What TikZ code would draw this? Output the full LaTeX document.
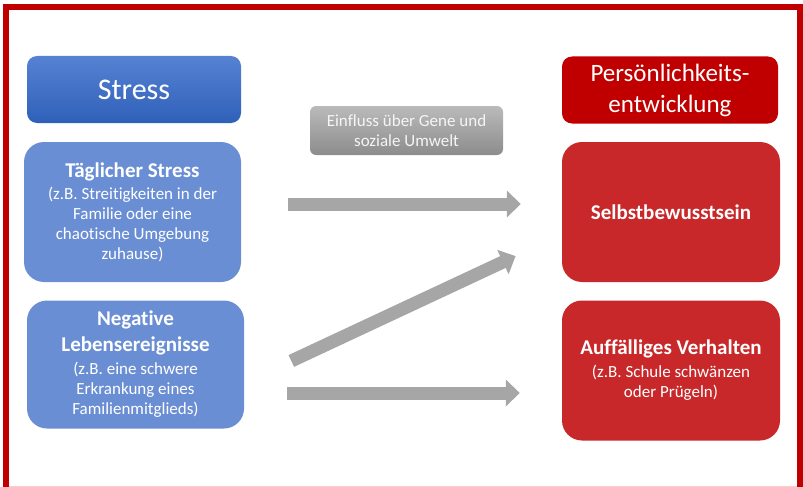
\documentclass[tikz,border=0pt]{standalone}
\usepackage{fontspec}
\setmainfont{Carlito}[Ligatures=NoCommon]
\usetikzlibrary{arrows.meta}

\definecolor{rahmenrot}{HTML}{C00000}
\definecolor{hellblau}{HTML}{6A8ED4}
\definecolor{kastenrot}{HTML}{C8282A}
\definecolor{pfeilgrau}{HTML}{A6A6A6}
\definecolor{stressoben}{HTML}{5682D2}
\definecolor{stressunten}{HTML}{2F60B9}

\begin{document}
\begin{tikzpicture}[x=1pt,y=-1pt,
		kasten/.style={rounded corners=20pt,text=white,align=center,inner sep=0pt,font=\fontsize{17}{20}\selectfont},
		blaukasten/.style={kasten,fill=hellblau,minimum width=217pt},
		rotkasten/.style={kasten,fill=kastenrot,minimum width=218pt,minimum height=140pt},
		kopf/.style={rounded corners=10pt,text=white,align=center,inner sep=0pt,minimum height=67pt},
		pfeil/.style={draw=pfeilgrau,line width=13pt,-{Triangle[length=14pt,width=26pt]}}]
		\useasboundingbox (0,0) rectangle (803,487);
		% Rahmen
		\draw[rahmenrot,line width=6pt] (6,495) -- (6,7) -- (800,7) -- (800,495);
		\draw[red!20,line width=1pt] (9,486.5) -- (797,486.5);
		
		% linke Seite
		\node[kopf,top color=stressoben,bottom color=stressunten,minimum width=214pt,font=\fontsize{30}{34}\selectfont] (stress) at (134,89.5) {Stress};
		\node[blaukasten,minimum height=140pt] (taeglich) at (132.5,212) {{\fontsize{21}{23}\selectfont\bfseries Täglicher Stress}\\[2pt](z.B. Streitigkeiten in der\\Familie oder eine\\chaotische Umgebung\\zuhause)};
		\node[blaukasten,minimum height=128pt] (negativ) at (135.5,364.5) {{\fontsize{21}{25}\selectfont\bfseries Negative}\\[6pt]{\fontsize{21}{24}\selectfont\bfseries Lebensereignisse}\\[3pt](z.B. eine schwere\\Erkrankung eines\\Familienmitglieds)};
		
		% Mitte
		\node[rounded corners=6pt,top color=black!27,bottom color=black!45,text=black!4,align=center,inner sep=0pt,minimum width=193pt,minimum height=49pt,font=\fontsize{17}{20}\selectfont] (einfluss) at (406.5,130.5) {Einfluss über Gene und\\soziale Umwelt};
		
		% rechte Seite
		\node[kopf,fill=rahmenrot,minimum width=216pt,font=\fontsize{25}{31}\selectfont] (persoenlich) at (670,90) {Persönlichkeits-\\entwicklung};
		\node[rotkasten] (selbst) at (671,212) {{\fontsize{21}{23}\selectfont\bfseries Selbstbewusstsein}};
		\node[rotkasten] (auffaellig) at (671,370.5) {{\fontsize{21}{23}\selectfont\bfseries Auffälliges Verhalten}\\[3pt](z.B. Schule schwänzen\\oder Prügeln)};
		
		% Pfeile
		\draw[pfeil,shorten <=47pt,shorten >=41pt] ([yshift=8pt]taeglich.east) -- ([yshift=8pt]selbst.west);
		\draw[pfeil,shorten <=52pt,shorten >=51pt] ([yshift=-18.5pt]negativ.east) -- ([yshift=-22.5pt]selbst.west);
		\draw[pfeil,shorten <=43pt,shorten >=42pt] ([yshift=-28.5pt]negativ.east) -- ([yshift=-22.5pt]auffaellig.west);
\end{tikzpicture}
\end{document}
